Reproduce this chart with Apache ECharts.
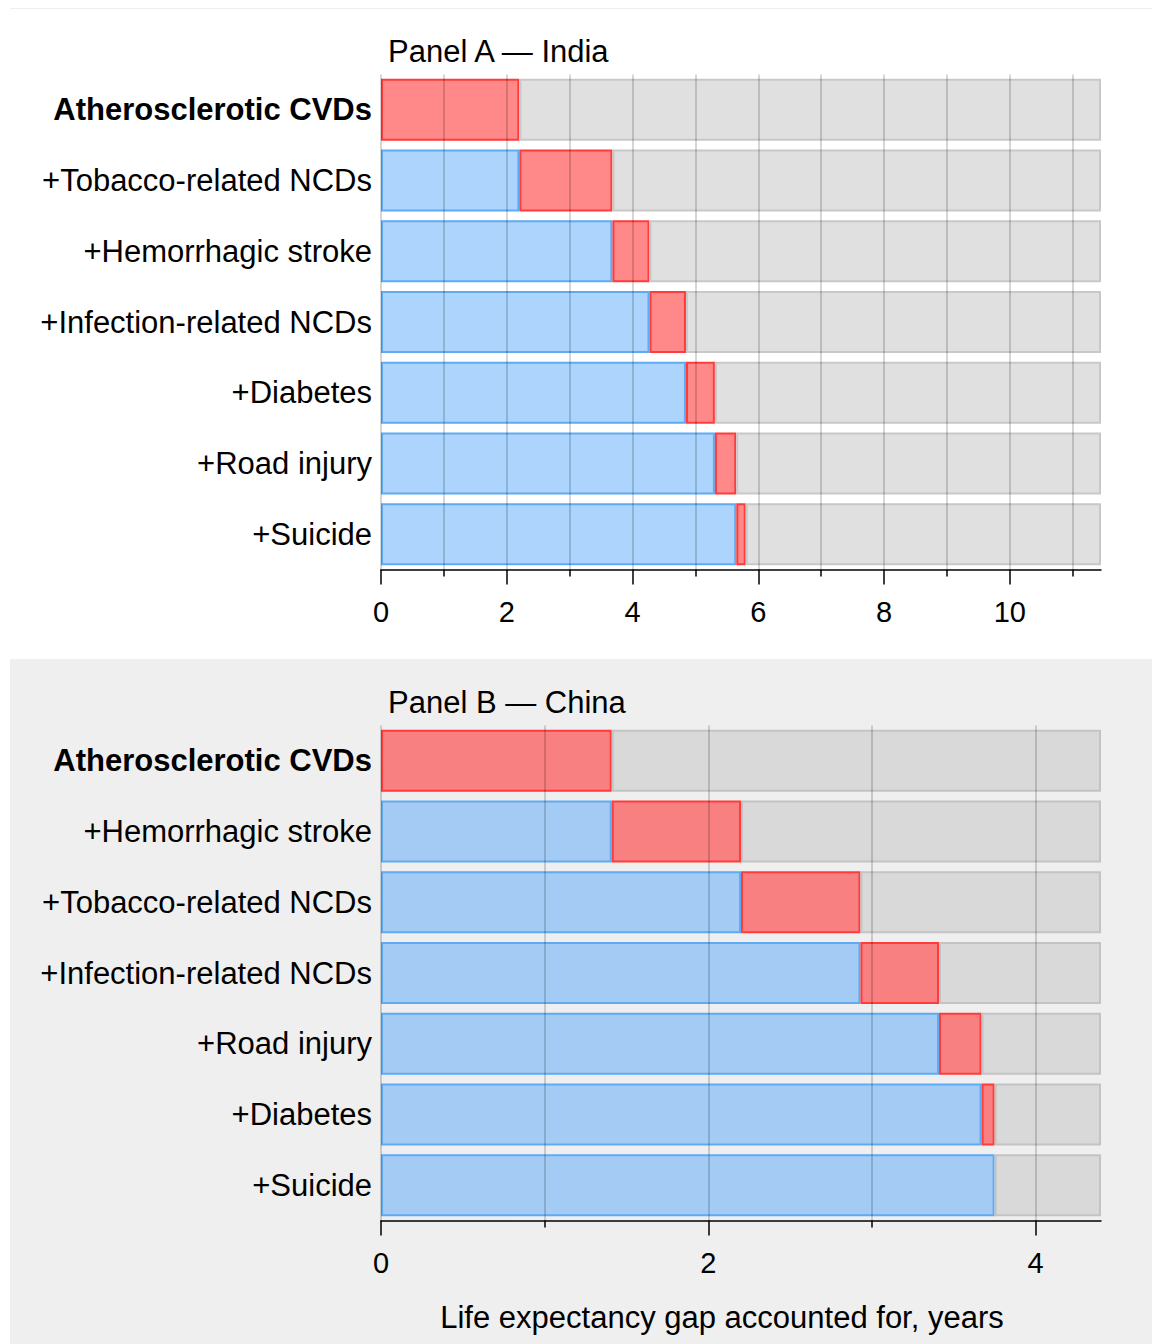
<!DOCTYPE html>
<html><head><meta charset="utf-8">
<script src="https://cdn.jsdelivr.net/npm/echarts@6/dist/echarts.min.js"></script>
<style>html,body{margin:0;padding:0;background:#fff}#c{width:1152px;height:1344px}</style>
</head><body><div id="c"></div>
<script>
// ---- data ----
const indiaCauses = ['Atherosclerotic CVDs', '+Tobacco-related NCDs', '+Hemorrhagic stroke', '+Infection-related NCDs', '+Diabetes', '+Road injury', '+Suicide'];
const indiaGain = [2.20, 1.48, 0.59, 0.58, 0.46, 0.34, 0.15];
const indiaTotalGap = 11.45;
const chinaCauses = ['Atherosclerotic CVDs', '+Hemorrhagic stroke', '+Tobacco-related NCDs', '+Infection-related NCDs', '+Road injury', '+Diabetes', '+Suicide'];
const chinaGain = [1.41, 0.79, 0.73, 0.48, 0.26, 0.08, 0.00];
const chinaTotalGap = 4.40;
const indiaMajorTicks = [0, 2, 4, 6, 8, 10];
const indiaMinorTicks = [1, 3, 5, 7, 9, 11];
const chinaMajorTicks = [0, 2, 4];
const chinaMinorTicks = [1, 3];
const panelTitles = ['Panel A \u2014 India', 'Panel B \u2014 China'];
const xAxisTitle = 'Life expectancy gap accounted for, years';

const FONT = '"Liberation Sans", Arial, sans-serif';

function parts(gain, total) {
  const prior = [], cum = [], rest = [];
  let s = 0;
  gain.forEach(g => { prior.push(s); s += g; cum.push(s); });
  cum.forEach(c => rest.push(+(total - c).toFixed(4)));
  return { prior, rest };
}
const nz = v => (v > 0 ? v : null);

const panels = [
  { causes: indiaCauses, gain: indiaGain, total: indiaTotalGap, major: indiaMajorTicks, minor: indiaMinorTicks, top: 74.5,
    grey: '#e0e0e0', greyB: '#c8c8c8', blue: '#acd4fc', red: '#ff8888' },
  { causes: chinaCauses, gain: chinaGain, total: chinaTotalGap, major: chinaMajorTicks, minor: chinaMinorTicks, top: 725.5,
    grey: '#d9d9d9', greyB: '#c3c3c3', blue: '#a3cbf3', red: '#f98080' }
];

const grid = [], xAxis = [], yAxis = [], series = [];
panels.forEach((p, i) => {
  grid.push({ left: 381, right: 51, top: p.top, height: 495, containLabel: false });
  const split = { show: true, lineStyle: { color: 'rgba(0,0,0,0.16)', width: 2 } };
  xAxis.push({
    type: 'value', gridIndex: i, min: 0, max: p.total, position: 'bottom', z: 10,
    axisLine: { show: true, lineStyle: { color: '#000', width: 1.5 } },
    axisTick: { show: true, length: 15, customValues: p.major, lineStyle: { color: '#000', width: 1.5 } },
    axisLabel: { show: true, customValues: p.major, margin: 28, fontSize: 29, color: '#000', fontFamily: FONT },
    splitLine: split
  });
  xAxis.push({
    type: 'value', gridIndex: i, min: 0, max: p.total, position: 'bottom', z: 10,
    axisLine: { show: false },
    axisTick: { show: true, length: 7, customValues: p.minor, lineStyle: { color: '#000', width: 1.5 } },
    axisLabel: { show: false, customValues: p.minor },
    splitLine: split
  });
  yAxis.push({
    type: 'category', gridIndex: i, inverse: true,
    data: p.causes.map((c, k) => k === 0 ? { value: c, textStyle: { fontWeight: 'bold' } } : c),
    axisLine: { show: false }, axisTick: { show: false },
    axisLabel: { fontSize: 31, color: '#000', margin: 9, fontFamily: FONT }
  });
  const d = parts(p.gain, p.total);
  const base = { type: 'bar', xAxisIndex: i * 2, yAxisIndex: i, stack: 'p' + i, barWidth: 62, silent: true };
  series.push(Object.assign({}, base, { name: 'prior' + i, data: d.prior.map(nz),
    itemStyle: { color: p.blue, borderColor: '#5eabf5', borderWidth: 2 } }));
  series.push(Object.assign({}, base, { name: 'added' + i, data: p.gain.map(nz),
    itemStyle: { color: p.red, borderColor: '#ff3b3b', borderWidth: 2 } }));
  series.push(Object.assign({}, base, { name: 'rest' + i, data: d.rest.map(nz),
    itemStyle: { color: p.grey, borderColor: p.greyB, borderWidth: 2 } }));
});

const chart = echarts.init(document.getElementById('c'), null, { renderer: 'svg' });
chart.setOption({
  animation: false,
  backgroundColor: '#fff',
  textStyle: { fontFamily: FONT },
  title: [
    { text: panelTitles[0], left: 388, top: 36, padding: 0, textStyle: { fontSize: 31, fontWeight: 'normal', color: '#000', fontFamily: FONT } },
    { text: panelTitles[1], left: 388, top: 687, padding: 0, textStyle: { fontSize: 31, fontWeight: 'normal', color: '#000', fontFamily: FONT } }
  ],
  graphic: [
    { type: 'line', z: -5, silent: true, shape: { x1: 10, y1: 8.5, x2: 1152, y2: 8.5 }, style: { stroke: '#eeeeee', lineWidth: 1 } },
    { type: 'rect', z: -10, silent: true, shape: { x: 10, y: 659, width: 1142, height: 685 }, style: { fill: '#efefef' } },
    { type: 'text', z: 10, silent: true, x: 722, y: 1317, style: { text: xAxisTitle, fontSize: 31, fill: '#000', fontFamily: FONT, align: 'center', verticalAlign: 'middle' } }
  ],
  grid, xAxis, yAxis, series
});
</script></body></html>
